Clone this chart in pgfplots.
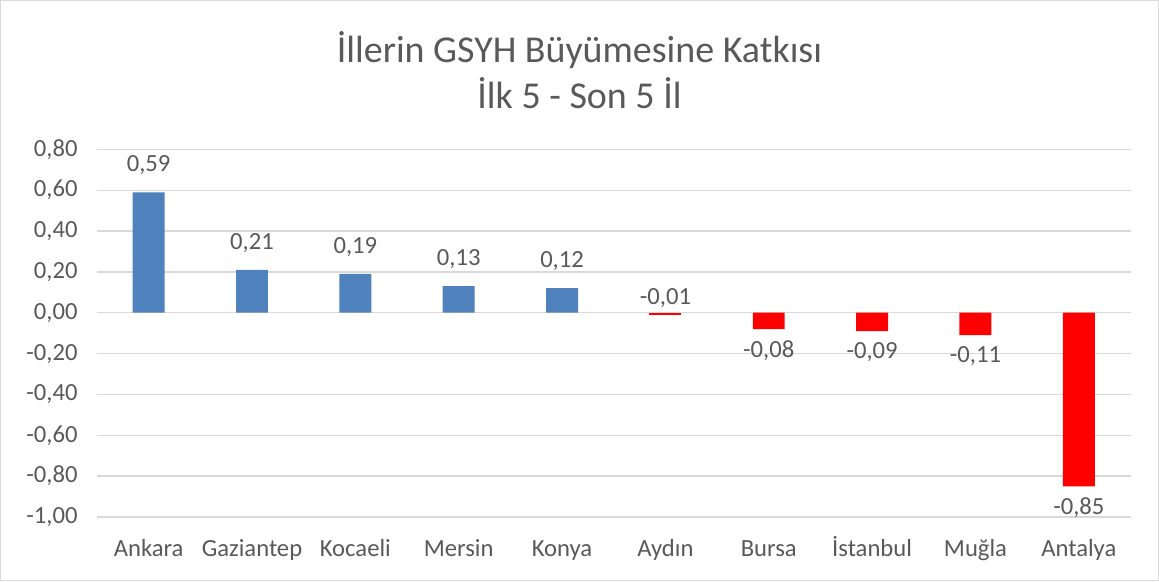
\documentclass[border=0pt]{standalone}
\usepackage{fontspec}
\setmainfont{Carlito}
\usepackage{pgfplots}
\pgfplotsset{compat=1.18}
\usepackage{xcolor}
\definecolor{barblue}{HTML}{4F81BD}
\definecolor{barred}{HTML}{FF0000}
\definecolor{txtgray}{HTML}{595959}
\definecolor{gridgray}{HTML}{D9D9D9}

\begin{document}
\begin{tikzpicture}
  \begin{axis}[
      name=main,
      width=776pt, height=276pt,
      scale only axis,
      ybar, bar width=24pt,
      xmin=-0.5, xmax=9.5,
      ymin=-1, ymax=0.8,
      ytick distance=0.2,
      xtick={0,...,9},
      xticklabels={Ankara,Gaziantep,Kocaeli,Mersin,Konya,Aydın,Bursa,İstanbul,Muğla,Antalya},
      axis line style={draw=none},
      major tick length=0pt,
      ymajorgrids,
      grid style={gridgray, line width=1pt},
      tick label style={font=\fontsize{18.5}{22}\selectfont, text=txtgray},
      yticklabel style={xshift=-11pt},
      xticklabel style={anchor=base, text height=13pt, yshift=-30pt},
      /pgf/number format/.cd, assume math mode=true, use comma, fixed, fixed zerofill, precision=2,
      /pgfplots/.cd,
      nodes near coords,
      every node near coord/.append style={font=\fontsize{18.5}{22}\selectfont, text=txtgray,
        /pgf/number format/assume math mode=true, /pgf/number format/use comma,
        /pgf/number format/fixed, /pgf/number format/fixed zerofill, /pgf/number format/precision=2},
      nodes near coords align={vertical},
    ]
    % positive provinces
    \addplot[fill=barblue, draw=none, bar shift=0pt,
      every node near coord/.append style={yshift=9.5pt}]
      coordinates {(0,0.59) (1,0.21) (2,0.19) (3,0.13) (4,0.12)};
    % Aydin: label placed above
    \addplot[fill=barred, draw=none, bar shift=0pt,
      nodes near coords align={above}, every node near coord/.append style={anchor=south, yshift=2pt}]
      coordinates {(5,-0.01)};
    % remaining negative provinces
    \addplot[fill=barred, draw=none, bar shift=0pt,
      every node near coord/.append style={yshift=-5pt}]
      coordinates {(6,-0.08) (7,-0.09) (8,-0.11) (9,-0.85)};
  \end{axis}
  % chart frame
  \draw[gridgray, line width=0.8pt]
    ([xshift=-72.4pt, yshift=-48pt]main.south west) rectangle
    ([xshift=21pt, yshift=111.75pt]main.north east);
  % title
  \node[anchor=base, font=\fontsize{28.5}{34}\selectfont, text=txtgray]
    at ([xshift=-25.7pt, yshift=65.25pt]main.north) {İllerin GSYH Büyümesine Katkısı};
  \node[anchor=base, font=\fontsize{28.5}{34}\selectfont, text=txtgray]
    at ([xshift=-25.7pt, yshift=30.75pt]main.north) {İlk 5 - Son 5 İl};
\end{tikzpicture}
\end{document}
